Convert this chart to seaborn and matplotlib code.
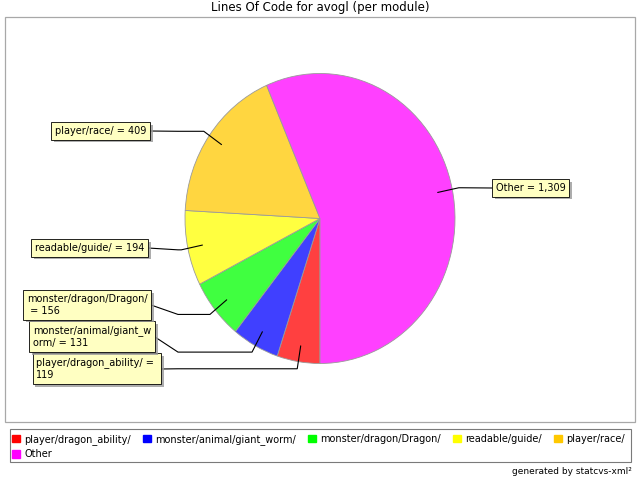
import matplotlib
matplotlib.use("Agg")
import matplotlib.pyplot as plt
import matplotlib.patches as mpatches
import matplotlib.patheffects as pe
import numpy as np
import seaborn as sns

# Lines of code per module
modules = ["player/dragon_ability/", "monster/animal/giant_worm/",
           "monster/dragon/Dragon/", "readable/guide/", "player/race/", "Other"]
lines_of_code = [119, 131, 156, 194, 409, 1309]
series_colors = ["#FF0000", "#0000FF", "#00FF00", "#FFFF00", "#FFC800", "#FF00FF"]
title = "Lines Of Code for avogl (per module)"
footer = "generated by statcvs-xml\u00b2"

sns.set_theme(style="white")
plt.rcParams["font.family"] = ["DejaVu Sans"]
plt.rcParams["text.color"] = "black"
plt.rcParams["legend.labelcolor"] = "black"

W, H = 640, 480
fig = plt.figure(figsize=(W / 100, H / 100), dpi=100)
fig.patch.set_facecolor("white")

# background layer: plot frame
back = fig.add_axes([0, 0, 1, 1], zorder=0)
back.set_xlim(0, W)
back.set_ylim(H, 0)
back.axis("off")
back.add_patch(mpatches.Rectangle((5, 17), 630, 405, fill=False,
                                  ec="#a8a8a8", lw=0.9))

# pie (slightly elliptical, section colours at 75 % opacity on white)
cx, cy, rx, ry = 320, 218.5, 135, 145
palette = sns.color_palette(series_colors)
pie_colors = [tuple(0.75 * np.array(c) + 0.25) for c in palette]
pie_ax = fig.add_axes([(cx - rx) / W, 1 - (cy + ry) / H, 2 * rx / W, 2 * ry / H],
                      zorder=1)
wedges, _ = pie_ax.pie(lines_of_code, colors=pie_colors, startangle=-90,
                       counterclock=False, radius=1.0,
                       wedgeprops=dict(edgecolor="#9a9a9a", linewidth=0.6))
for w in wedges:
    w.set_clip_on(False)
pie_ax.set_aspect("auto")
pie_ax.set_xlim(-1, 1)
pie_ax.set_ylim(-1, 1)
pie_ax.axis("off")

# top layer: labels, connectors, title, legend frame
top = fig.add_axes([0, 0, 1, 1], zorder=2)
top.set_xlim(0, W)
top.set_ylim(H, 0)
top.axis("off")
top.patch.set_alpha(0)

top.text(W / 2, 8, title, ha="center", va="center", fontsize=8.5, color="black")

# label box anchor: (edge x of box facing the pie, box centre y, line break index)
label_boxes = [(161, 369, 25), (155, 337, 22), (151, 305, 22),
               (148, 248, None), (150, 131, None), (492, 188, None)]
fs = 7
pad_frac = 0.38
pad_px = pad_frac * fs * 100 / 72

for w, name, val, (bx, by, brk) in zip(wedges, modules, lines_of_code, label_boxes):
    mid = np.radians((w.theta1 + w.theta2) / 2)
    c, s = np.cos(mid), np.sin(mid)
    ax_pt = (cx + 0.89 * rx * c, cy - 0.89 * ry * s)
    el_pt = (cx + 1.05 * rx * c, cy - 1.05 * ry * s)
    left_side = c < 0
    knee_x = cx - rx - 7 if left_side else cx + rx + 7
    xs = [ax_pt[0], el_pt[0], knee_x, bx]
    ys = [ax_pt[1], el_pt[1], el_pt[1], by]
    top.plot(xs, ys, color="black", lw=0.8, solid_joinstyle="miter")

    label = f"{name} = {val:,}"
    if brk is not None:
        label = label[:brk] + "\n" + label[brk:]
    if left_side:
        t = top.text(bx - pad_px, by, label, ha="right", va="center",
                     multialignment="left", fontsize=fs, linespacing=1.25,
                     color="black")
    else:
        t = top.text(bx + pad_px, by, label, ha="left", va="center",
                     multialignment="left", fontsize=fs, linespacing=1.25,
                     color="black")
    t.set_bbox(dict(boxstyle=f"square,pad={pad_frac}", fc="#FFFFC2",
                    ec="black", lw=0.6))
    t.get_bbox_patch().set_path_effects(
        [pe.SimplePatchShadow(offset=(2, -2), shadow_rgbFace="#999999", alpha=0.8),
         pe.Normal()])

# legend
top.add_patch(mpatches.Rectangle((10, 429), 621, 33, fill=False,
                                 ec="#7a7a7a", lw=0.8))
handles = [mpatches.Patch(color=col, label=m) for m, col in zip(modules, palette)]
order = [0, 5, 1, 2, 3, 4]
fig.legend(handles=[handles[i] for i in order], loc="upper left",
           bbox_to_anchor=(12 / W, 1 - 434 / H), ncol=5, frameon=False,
           fontsize=7, handlelength=0.8, handleheight=0.8, handletextpad=0.45,
           columnspacing=1.25, labelspacing=0.45, borderaxespad=0, borderpad=0)

top.text(632, 471, footer, ha="right", va="center", fontsize=6.5, color="black")

fig.savefig("out.png", dpi=100, facecolor="white")
